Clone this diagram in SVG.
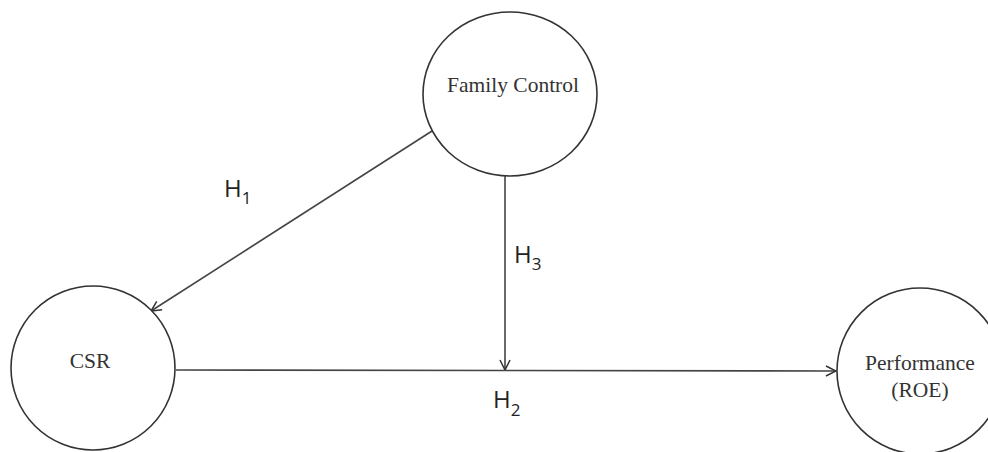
<svg xmlns="http://www.w3.org/2000/svg" width="988" height="452" viewBox="0 0 988 452">
<style>
.node{fill:#fff;stroke:#333;stroke-width:1.6}
.nt{font-family:"Liberation Serif","Times New Roman",serif;font-size:21.5px;fill:#333;text-anchor:middle}
.edge{fill:none;stroke:#444;stroke-width:1.6}
.lbl{font-family:"Open Sans","DejaVu Sans",sans-serif;font-size:24px;fill:#222}
.sub{font-size:17px}
</style>
<defs>
<marker id="arr" viewBox="0 0 12 12" refX="11" refY="6" markerWidth="12" markerHeight="12" markerUnits="userSpaceOnUse" orient="auto">
<path d="M1,1 L11,6 L1,11" fill="none" stroke="#333" stroke-width="1.5"/>
</marker>
</defs>
<rect width="988" height="452" fill="#fff"/>
<g id="connectors">
<line class="edge" x1="432" y1="131" x2="151" y2="311" marker-end="url(#arr)"/>
<line class="edge" x1="505" y1="176" x2="505" y2="370" marker-end="url(#arr)"/>
<line class="edge" x1="176" y1="370" x2="836" y2="371" marker-end="url(#arr)"/>
</g>
<g id="family-control">
<ellipse class="node" cx="510" cy="94" rx="87" ry="82"/>
<text class="nt" x="513" y="92">Family Control</text>
</g>
<g id="csr">
<circle class="node" cx="93" cy="368" r="82"/>
<text class="nt" x="90" y="368">CSR</text>
</g>
<g id="performance">
<circle class="node" cx="920" cy="371" r="83"/>
<text class="nt" x="920" y="370">Performance</text>
<text class="nt" x="920" y="397">(ROE)</text>
</g>
<g id="labels">
<text class="lbl" x="224" y="197">H<tspan class="sub" dy="7">1</tspan></text>
<text class="lbl" x="514" y="263">H<tspan class="sub" dy="7">3</tspan></text>
<text class="lbl" x="493" y="408">H<tspan class="sub" dy="8">2</tspan></text>
</g>
</svg>
